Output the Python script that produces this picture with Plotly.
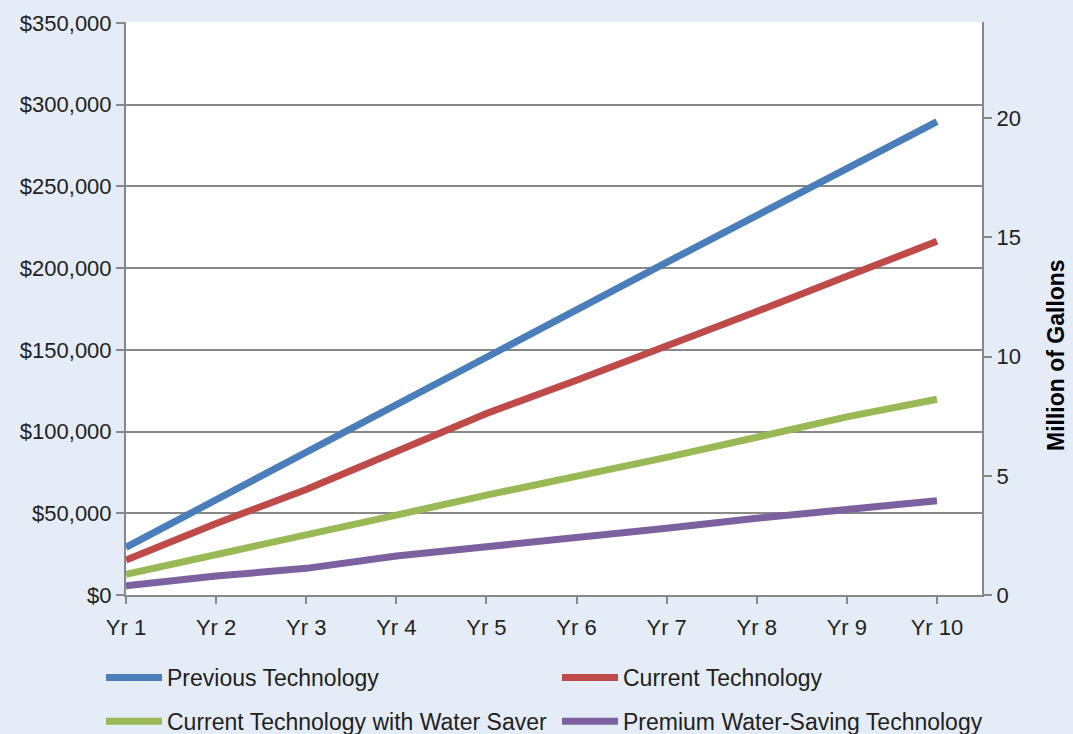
import plotly.graph_objects as go

years = ["Yr 1", "Yr 2", "Yr 3", "Yr 4", "Yr 5", "Yr 6", "Yr 7", "Yr 8", "Yr 9", "Yr 10"]

previous_tech = [29200, 58100, 86600, 115800, 145500, 174500, 203500, 232500, 261000, 289600]
current_tech = [21400, 43800, 64600, 87600, 111100, 131400, 153000, 173500, 195000, 216400]
current_water_saver = [12650, 24450, 36700, 48900, 61100, 72300, 84200, 96500, 109000, 119800]
premium_water_saving = [5700, 11600, 16300, 23800, 29500, 34650, 40800, 47000, 52800, 57650]

series_names = ["Previous Technology", "Current Technology",
                "Current Technology with Water Saver", "Premium Water-Saving Technology"]
series_values = [previous_tech, current_tech, current_water_saver, premium_water_saving]
series_colors = ["#4a7ebb", "#be4b48", "#98b954", "#7d60a0"]
series_legend = ["legend", "legend2", "legend", "legend2"]

left_ticks = [0, 50000, 100000, 150000, 200000, 250000, 300000, 350000]
left_labels = ["$0", "$50,000", "$100,000", "$150,000", "$200,000", "$250,000", "$300,000", "$350,000"]
right_ticks = [0, 5, 10, 15, 20]
right_title = "Million of Gallons"

BG = "#e4ecf8"
GRID = "#888888"
TXT = "#231f20"
FONT = "Liberation Sans, Arial, sans-serif"
TICK_SIZE = 22
LEG_SIZE = 23

fig = go.Figure()
for i, (name, vals, col, leg) in enumerate(zip(series_names, series_values, series_colors, series_legend)):
    fig.add_trace(go.Scatter(
        x=years, y=vals, name=name, mode="lines",
        line=dict(color=col, width=7),
        legend=leg, legendgroup="g%d" % i,
    ))

# invisible anchor trace so the secondary (gallons) axis is drawn
fig.add_trace(go.Scatter(
    x=[years[0]] * len(right_ticks), y=right_ticks, yaxis="y2",
    mode="markers", marker=dict(opacity=0), showlegend=False, hoverinfo="skip",
))

leg_common = dict(
    orientation="v", yanchor="top", xanchor="left",
    xref="container", yref="container",
    traceorder="grouped", tracegroupgap=11,
    itemwidth=56,
    font=dict(family=FONT, size=LEG_SIZE, color=TXT),
    bgcolor="rgba(0,0,0,0)", borderwidth=0,
)

fig.update_layout(
    width=1073, height=734,
    paper_bgcolor=BG, plot_bgcolor="white",
    margin=dict(l=126, r=91, t=22, b=139, autoexpand=False),
    font=dict(family=FONT, size=TICK_SIZE, color=TXT),
    showlegend=True,
    legend=dict(x=101 / 1073, y=1 - 656 / 734, **leg_common),
    legend2=dict(x=557 / 1073, y=1 - 656 / 734, **leg_common),
    xaxis=dict(
        type="category", categoryorder="array", categoryarray=years,
        range=[0, 9.5],
        showgrid=False, showline=True, linecolor=GRID, linewidth=2,
        ticks="outside", ticklen=7, tickwidth=2, tickcolor=GRID,
        ticklabelstandoff=5,
        tickfont=dict(family=FONT, size=TICK_SIZE, color=TXT),
        zeroline=False,
    ),
    yaxis=dict(
        range=[0, 350600], tickvals=left_ticks, ticktext=left_labels,
        showgrid=True, gridcolor=GRID, gridwidth=2,
        showline=True, linecolor=GRID, linewidth=2,
        ticks="outside", ticklen=8, tickwidth=2, tickcolor=GRID,
        tickfont=dict(family=FONT, size=TICK_SIZE, color=TXT),
        zeroline=False,
    ),
    yaxis2=dict(
        overlaying="y", side="right", anchor="x",
        range=[0, 24.04], tickvals=right_ticks,
        showgrid=False, showline=True, linecolor=GRID, linewidth=2,
        ticks="outside", ticklen=8, tickwidth=2, tickcolor=GRID,
        tickfont=dict(family=FONT, size=TICK_SIZE, color=TXT),
        zeroline=False,
    ),
    annotations=[dict(
        text="<b>%s</b>" % right_title, textangle=-90,
        xref="paper", yref="paper",
        x=(1056 - 126) / 856, y=(595 - 355) / 573,
        xanchor="center", yanchor="middle", showarrow=False,
        font=dict(family=FONT, size=23, color="#000000"),
    )],
)

fig.write_html("out.html", config={"displayModeBar": False},
               post_script="document.body.style.margin='0';")
